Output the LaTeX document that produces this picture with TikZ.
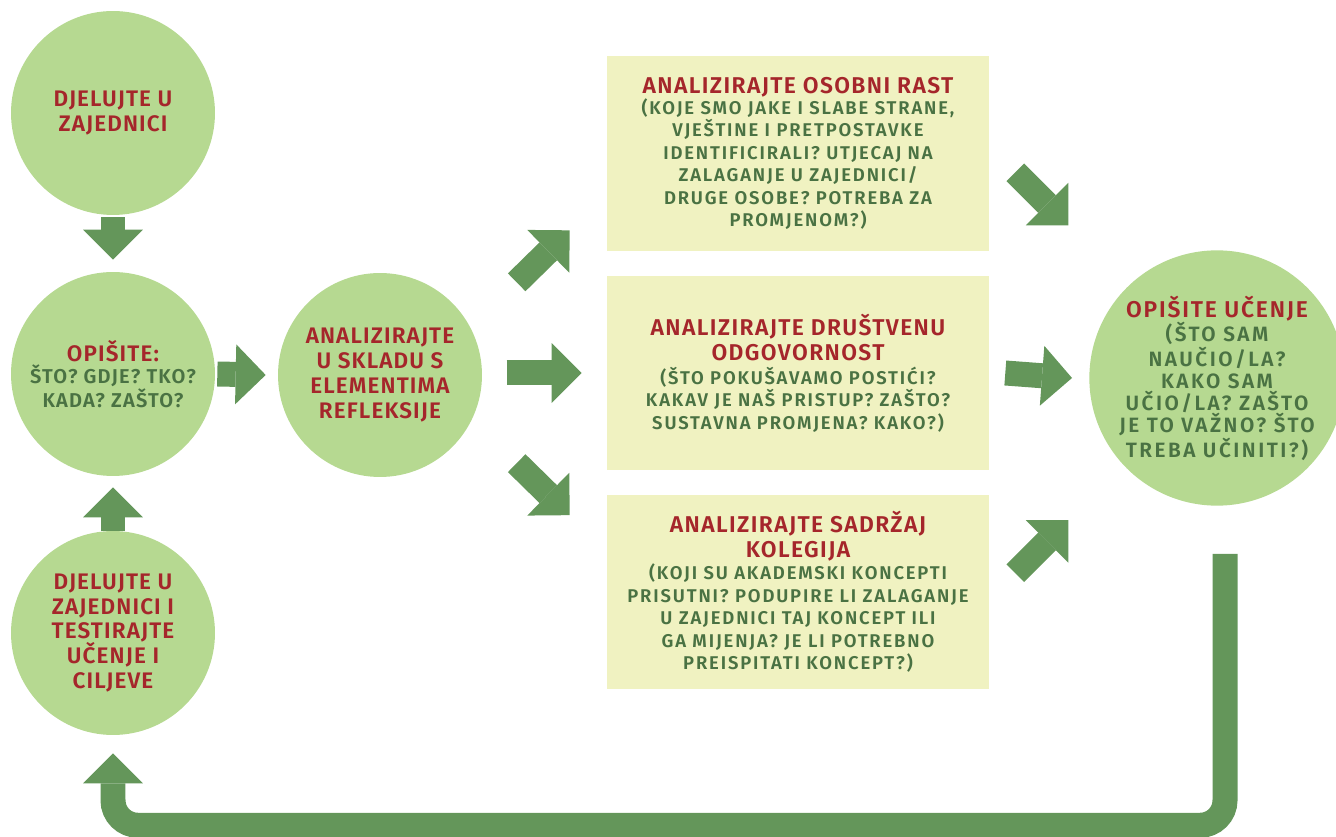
\documentclass[tikz,border=0pt]{standalone}
\usepackage{fontspec}
\setmainfont{Fira Sans}[BoldFont={Fira Sans SemiBold}]
\usepackage{tikz}
\usetikzlibrary{calc,arrows.meta}
\definecolor{leafgreen}{HTML}{B6D991}
\definecolor{paleyellow}{HTML}{F0F2C1}
\definecolor{arrowgreen}{HTML}{64965A}
\definecolor{titlered}{HTML}{A5262B}
\definecolor{textgreen}{HTML}{4A7243}
\def\hd#1{{\color{titlered}\fontsize{13}{14.2}\selectfont\addfontfeature{LetterSpace=6}#1}}
\def\gr#1{{\color{textgreen}\fontsize{11.4}{12.3}\selectfont\addfontfeature{LetterSpace=6}#1}}
\def\grbig#1{{\color{textgreen}\fontsize{11.8}{12.6}\selectfont\addfontfeature{LetterSpace=12}#1}}

\begin{document}
\begin{tikzpicture}[x=0.02cm,y=-0.02cm,
    circ/.style={circle,fill=leafgreen,minimum size=4.08cm,inner sep=0pt,align=center,
        text=titlered,font=\bfseries\fontsize{12.8}{14.2}\selectfont\addfontfeature{LetterSpace=5}},
    note/.style={rectangle,fill=paleyellow,minimum width=7.64cm,minimum height=3.9cm,
        inner sep=0pt,align=center,text=textgreen,
        font=\bfseries\fontsize{10.5}{12.8}\selectfont\addfontfeature{LetterSpace=10}},
    blockarrow/.style={draw=arrowgreen,line width=0.5cm,
        -{Triangle[width=1.2cm,length=0.6cm,line width=0pt]}}]
    \useasboundingbox (0,0) rectangle (1336,837);
    % left column
    \node[circ] (act) at (113,113) {DJELUJTE U\\ZAJEDNICI};
    \node[circ,font=\bfseries\fontsize{12.8}{12.3}\selectfont\addfontfeature{LetterSpace=5}] (desc) at (113,374)
        {OPIŠITE:\\[0.5pt] \gr{ŠTO? GDJE? TKO?}\\ \gr{KADA? ZAŠTO?}};
    \node[circ] (test) at (113,633) {DJELUJTE U\\ZAJEDNICI I\\TESTIRAJTE\\UČENJE I\\CILJEVE};
    \node[circ] (refl) at (380,375) {ANALIZIRAJTE\\U SKLADU S\\ELEMENTIMA\\REFLEKSIJE};
    % the three boxes
    \node[note] (grow) at (798,153.5) {\hd{ANALIZIRAJTE OSOBNI RAST}\\[-1pt] (KOJE SMO JAKE I SLABE STRANE,\\
        VJEŠTINE I PRETPOSTAVKE\\ IDENTIFICIRALI? UTJECAJ NA\\ ZALAGANJE U ZAJEDNICI/\\
        DRUGE OSOBE? POTREBA ZA\\ PROMJENOM?)};
    \node[note] (duty) at (798,373) {\hd{ANALIZIRAJTE DRUŠTVENU}\\[1.4pt] \hd{ODGOVORNOST}\\[1pt]
        (ŠTO POKUŠAVAMO POSTIĆI?\\ KAKAV JE NAŠ PRISTUP? ZAŠTO?\\ SUSTAVNA PROMJENA? KAKO?)};
    \node[note] (course) at (798,592) {\hd{ANALIZIRAJTE SADRŽAJ}\\[1pt] \hd{KOLEGIJA}\\
        (KOJI SU AKADEMSKI KONCEPTI\\ PRISUTNI? PODUPIRE LI ZALAGANJE\\ U ZAJEDNICI TAJ KONCEPT ILI\\
        GA MIJENJA? JE LI POTREBNO\\ PREISPITATI KONCEPT?)};
    \node[circ,minimum size=4.8cm,font=\bfseries\fontsize{13}{12.6}\selectfont\addfontfeature{LetterSpace=8}]
        (learn) at (1217,378) {OPIŠITE UČENJE\\ \grbig{(ŠTO SAM}\\ \grbig{NAUČIO/LA?}\\ \grbig{KAKO SAM}\\
        \grbig{UČIO/LA? ZAŠTO}\\ \grbig{JE TO VAŽNO? ŠTO}\\ \grbig{TREBA UČINITI?)}};
    % arrows
    \draw[blockarrow] ($(act.south)+(0,2)$) -- ($(desc.north)+(0,-12)$);
    \draw[blockarrow] (test.north) -- ($(desc.south)+(0,11)$);
    \draw[blockarrow] ($(desc.east)+(2,0)$) -- ($(refl.west)+(-12,0)$);
    \draw[blockarrow] ($(grow.south west)+(-90,31)$) -- ($(grow.south west)+(-37,-21)$);
    \draw[blockarrow] ($(duty.west)+(-100,0)$) -- ($(duty.west)+(-25,0)$);
    \draw[blockarrow] ($(course.north west)+(-90,-31)$) -- ($(course.north west)+(-37,21)$);
    \draw[blockarrow] ($(grow.south east)+(26,-79)$) -- ($(grow.south east)+(79,-26)$);
    \draw[blockarrow] ($(duty.east)+(16,0)$) -- ($(learn.west)+(-17,0)$);
    \draw[blockarrow] ($(course.north east)+(26,79)$) -- ($(course.north east)+(79,26)$);
    % back to the start
    \draw[blockarrow,rounded corners=0.5cm] ($(learn.south)+(8,48)$) |- ($(test.south)+(0,90)$)
        -- ($(test.south)+(0,18)$);
\end{tikzpicture}
\end{document}
